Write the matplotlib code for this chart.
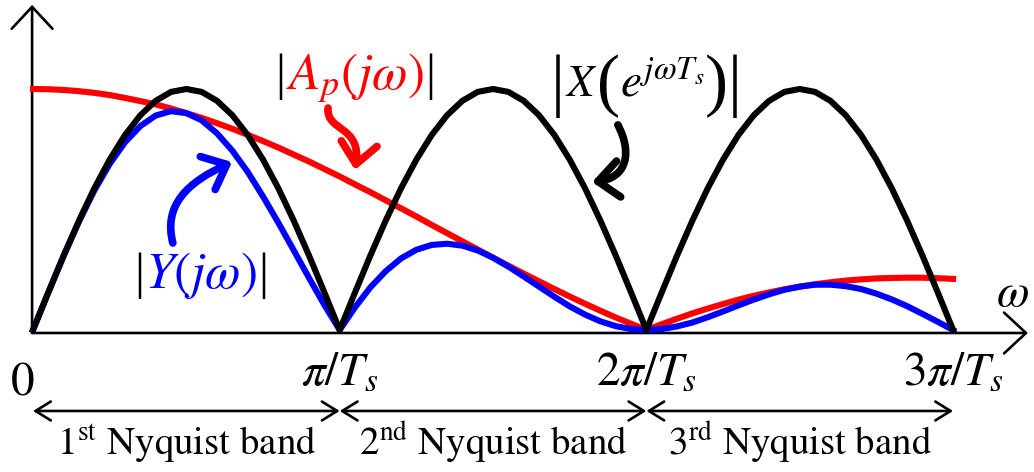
import matplotlib
matplotlib.use('Agg')
import matplotlib.pyplot as plt
from matplotlib.patches import FancyArrowPatch
from matplotlib.path import Path
from matplotlib.offsetbox import TextArea, HPacker, AnnotationBbox
import numpy as np

plt.rcParams['mathtext.fontset'] = 'stix'
plt.rcParams['font.family'] = 'STIXGeneral'

# frequency grid in units of pi/Ts
omega = np.linspace(0, 3, 61)

# |X(e^{jwTs})| - sampled spectrum
x_mag = [0.000, 0.156, 0.309, 0.454, 0.588, 0.707, 0.809, 0.891, 0.951, 0.988,
         1.000, 0.988, 0.951, 0.891, 0.809, 0.707, 0.588, 0.454, 0.309, 0.156,
         0.000, 0.156, 0.309, 0.454, 0.588, 0.707, 0.809, 0.891, 0.951, 0.988,
         1.000, 0.988, 0.951, 0.891, 0.809, 0.707, 0.588, 0.454, 0.309, 0.156,
         0.000, 0.156, 0.309, 0.454, 0.588, 0.707, 0.809, 0.891, 0.951, 0.988,
         1.000, 0.988, 0.951, 0.891, 0.809, 0.707, 0.588, 0.454, 0.309, 0.156,
         0.000]

# |Ap(jw)| - hold / reconstruction filter
ap_mag = [1.000, 0.999, 0.996, 0.991, 0.984, 0.975, 0.963, 0.950, 0.936, 0.919,
          0.900, 0.880, 0.858, 0.835, 0.810, 0.784, 0.757, 0.728, 0.699, 0.668,
          0.637, 0.604, 0.572, 0.538, 0.505, 0.471, 0.436, 0.402, 0.368, 0.334,
          0.300, 0.267, 0.234, 0.202, 0.170, 0.139, 0.109, 0.080, 0.052, 0.026,
          0.000, 0.024, 0.047, 0.069, 0.089, 0.108, 0.126, 0.142, 0.156, 0.169,
          0.180, 0.190, 0.198, 0.205, 0.210, 0.214, 0.216, 0.217, 0.217, 0.215,
          0.212]

# |Y(jw)| - output
y_mag = [0.000, 0.156, 0.308, 0.450, 0.579, 0.689, 0.779, 0.846, 0.890, 0.908,
         0.900, 0.870, 0.816, 0.744, 0.656, 0.554, 0.445, 0.331, 0.216, 0.104,
         0.000, 0.094, 0.177, 0.244, 0.297, 0.333, 0.353, 0.358, 0.350, 0.330,
         0.300, 0.263, 0.222, 0.180, 0.138, 0.098, 0.064, 0.036, 0.016, 0.004,
         0.000, 0.004, 0.015, 0.031, 0.053, 0.077, 0.102, 0.126, 0.148, 0.167,
         0.180, 0.188, 0.188, 0.182, 0.170, 0.151, 0.127, 0.099, 0.067, 0.034,
         0.000]

tick_pos = [1, 2, 3]
tick_labels = [r'$\pi/T_s$', r'$2\pi/T_s$', r'$3\pi/T_s$']
band_labels = [r'1$^{\mathrm{st}}$ Nyquist band',
               r'2$^{\mathrm{nd}}$ Nyquist band',
               r'3$^{\mathrm{rd}}$ Nyquist band']

RED = '#ff0000'
BLUE = '#0000ff'
SERIF = 'Liberation Serif'

fig = plt.figure(figsize=(10.34, 4.72), dpi=100)
ax = fig.add_axes([0, 0, 1, 1])
ax.set_xlim(-0.1076, 3.2638)
ax.set_ylim(-0.5892, 1.3693)
ax.axis('off')

ax.plot(omega, ap_mag, color=RED, lw=4.4, zorder=3)
ax.plot(omega, y_mag, color=BLUE, lw=4.4, zorder=4)
ax.plot(omega, x_mag, color='black', lw=4.4, zorder=5)


def straight_arrow(p0, p1, style, lw):
    ax.add_patch(FancyArrowPatch(p0, p1, arrowstyle=style, mutation_scale=1,
                                 lw=lw, color='black', shrinkA=0, shrinkB=0,
                                 zorder=2))


# axes
y_axis = -0.0124
straight_arrow((-0.003, y_axis), (-0.003, 1.349),
               '->,head_length=15.8,head_width=14.7', 1.9)
straight_arrow((-0.003, y_axis), (3.244, y_axis),
               '->,head_length=15.8,head_width=14.7', 1.9)

# Nyquist band markers
for k in range(3):
    straight_arrow((k, -0.336), (k + 1, -0.336),
                   '<->,head_length=11,head_width=6.8', 1.9)
    ax.text(k + 0.5, -0.519, band_labels[k], fontsize=28,
            ha='center', va='baseline')

ax.text(-0.033, -0.27, '0', fontsize=34, ha='center', va='baseline')
for p, lab in zip(tick_pos, tick_labels):
    ax.text(p, -0.228, lab, fontsize=34, ha='center', va='baseline')

ax.text(3.195, 0.145, r'$\omega$', fontsize=34, ha='center', va='center')


def piece_label(pieces, xy, align='baseline', sep=1):
    parts = []
    for s, c, f, fam in pieces:
        props = dict(color=c, fontsize=f)
        if fam:
            props['fontfamily'] = fam
        parts.append(TextArea(s, textprops=props))
    box = HPacker(children=parts, align=align, pad=0, sep=sep)
    ax.add_artist(AnnotationBbox(box, xy, xycoords='data', frameon=False,
                                 box_alignment=(0.5, 0.5), pad=0))


piece_label([('|', 'black', 36, SERIF), (r'$A_p(j\omega)$', RED, 37, None),
             ('|', 'black', 36, SERIF)], (1.05, 1.046))
piece_label([('|', 'black', 36, SERIF), (r'$Y(j\omega)$', BLUE, 37, None),
             ('|', 'black', 36, SERIF)], (0.548, 0.228))
piece_label([('|', 'black', 50, SERIF), (r'$X$', 'black', 32, None),
             ('(', 'black', 50, SERIF),
             (r'$e^{j\omega T_s}$', 'black', 34, None),
             (')', 'black', 50, SERIF), ('|', 'black', 50, SERIF)],
            (2.0, 1.012), align='center', sep=0)


def curved_arrow(pts, color):
    path = Path(pts, [Path.MOVETO, Path.CURVE4, Path.CURVE4, Path.CURVE4])
    ax.add_patch(FancyArrowPatch(path=path,
                                 arrowstyle='->,head_length=15,head_width=13',
                                 mutation_scale=1, lw=5.5, color=color,
                                 capstyle='round', joinstyle='round',
                                 zorder=6))


curved_arrow([(0.962, 0.921), (0.955, 0.822), (1.073, 0.851), (1.050, 0.664)], RED)
curved_arrow([(1.907, 0.851), (1.953, 0.739), (1.940, 0.631), (1.823, 0.614)], 'black')
curved_arrow([(0.456, 0.361), (0.424, 0.519), (0.505, 0.614), (0.649, 0.697)], BLUE)

fig.savefig('out.png', dpi=100)
